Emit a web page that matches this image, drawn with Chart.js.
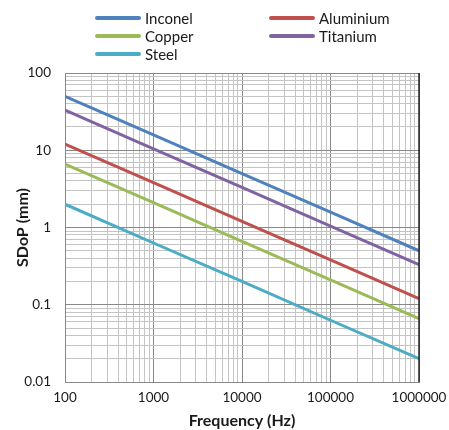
<!DOCTYPE html>
<html>
<head>
<meta charset="utf-8">
<script src="https://cdn.jsdelivr.net/npm/chart.js@4.4.1/dist/chart.umd.min.js"></script>
<style>
  html, body { margin: 0; padding: 0; background: #fff; }
  #wrap { position: relative; width: 449px; height: 430px; }
  #sdop { position: absolute; left: 0; top: 0; }
  #legend { position: absolute; left: 0; top: 0; width: 449px; height: 70px; font-family: Lato, "Open Sans", sans-serif; font-size: 15px; color: #1a1a1a; }
  .item { position: absolute; height: 18px; line-height: 18px; }
  .item span.swatch { position: absolute; left: 0; top: 7px; width: 46px; height: 4px; border-radius: 2px; }
  .item span.txt { position: absolute; left: 50px; white-space: nowrap; }
</style>
</head>
<body>
<div id="wrap">
  <canvas id="sdop" width="449" height="430"></canvas>
  <div id="legend"></div>
</div>
<script>
// frequencies (Hz) and standard depth of penetration (mm)
var freqs = [100, 1000, 10000, 100000, 1000000];
var inconel   = [50, 15.8, 5.0, 1.58, 0.5];
var aluminium = [12, 3.8, 1.2, 0.38, 0.12];
var copper    = [6.6, 2.1, 0.66, 0.21, 0.066];
var titanium  = [33, 10.4, 3.3, 1.04, 0.33];
var steel     = [2.0, 0.63, 0.2, 0.063, 0.02];

var xTickLabels = ['100', '1000', '10000', '100000', '1000000'];
var yTickLabels = ['0.01', '0.1', '1', '10', '100'];

var series = [
    {name: 'Inconel',   data: inconel,   color: '#4F81BD', lx: 95,  ly: 9},
    {name: 'Aluminium', data: aluminium, color: '#C0504D', lx: 269, ly: 9},
    {name: 'Copper',    data: copper,    color: '#9BBB59', lx: 95,  ly: 27},
    {name: 'Titanium',  data: titanium,  color: '#8064A2', lx: 269, ly: 27},
    {name: 'Steel',     data: steel,     color: '#4BACC6', lx: 95,  ly: 45}
];

// html legend, two columns like the original
var legend = document.getElementById('legend');
series.forEach(function(s) {
    var d = document.createElement('div');
    d.className = 'item';
    d.style.left = s.lx + 'px';
    d.style.top = s.ly + 'px';
    d.innerHTML = '<span class="swatch" style="background:' + s.color + '"></span><span class="txt">' + s.name + '</span>';
    legend.appendChild(d);
});

function decadeTicks(min, max) {
    var t = [];
    for (var p = min; p < max; p *= 10) {
        for (var k = 1; k < 10; k++) t.push({value: +(k * p).toPrecision(3)});
    }
    t.push({value: max});
    return t;
}

function isMajor(v) {
    var l = Math.log10(v);
    return Math.abs(l - Math.round(l)) < 1e-6;
}

function gridColor(ctx) {
    if (!ctx.tick) return '#c4c4c4';
    return isMajor(ctx.tick.value) ? '#888888' : '#c4c4c4';
}

var datasets = series.map(function(s) {
    return {
        label: s.name,
        data: freqs.map(function(f, i) { return {x: f, y: s.data[i]}; }),
        borderColor: s.color,
        backgroundColor: s.color,
        borderWidth: 3,
        pointRadius: 0,
        fill: false,
        tension: 0
    };
});

var fontFam = 'Lato, "Open Sans", sans-serif';

new Chart(document.getElementById('sdop').getContext('2d'), {
    type: 'line',
    data: {datasets: datasets},
    options: {
        responsive: false,
        animation: false,
        layout: {padding: {left: 0, right: 30, top: 73, bottom: 0}},
        plugins: {legend: {display: false}, tooltip: {enabled: false}},
        scales: {
            x: {
                type: 'logarithmic',
                min: 100, max: 1000000,
                afterBuildTicks: function(scale) { scale.ticks = decadeTicks(100, 1000000); },
                afterFit: function(scale) {
                    scale.height = 48;
                    scale.paddingLeft = 0;
                    scale.paddingRight = 0;
                },
                grid: {color: gridColor, lineWidth: 1, drawTicks: false},
                border: {color: '#888888', width: 1},
                ticks: {
                    autoSkip: false, maxRotation: 0, padding: 8,
                    color: '#1a1a1a', font: {family: fontFam, size: 13.5},
                    callback: function(v) {
                        var i = freqs.indexOf(v);
                        return i >= 0 ? xTickLabels[i] : '';
                    }
                },
                title: {display: true, text: 'Frequency (Hz)', color: '#1a1a1a', padding: {top: 1, bottom: 0},
                        font: {family: fontFam, size: 16, weight: 'bold'}}
            },
            y: {
                type: 'logarithmic',
                min: 0.01, max: 100,
                afterBuildTicks: function(scale) { scale.ticks = decadeTicks(0.01, 100); },
                afterFit: function(scale) {
                    scale.width = 65;
                    scale.paddingTop = 0;
                    scale.paddingBottom = 0;
                },
                grid: {color: gridColor, lineWidth: 1, drawTicks: false},
                border: {color: '#888888', width: 1},
                ticks: {
                    autoSkip: false, padding: 14,
                    color: '#1a1a1a', font: {family: fontFam, size: 13.5},
                    callback: function(v) {
                        var idx = [0.01, 0.1, 1, 10, 100].indexOf(v);
                        return idx >= 0 ? yTickLabels[idx] : '';
                    }
                },
                title: {display: true, text: 'SDoP (mm)', color: '#1a1a1a', padding: {top: 13, bottom: 0},
                        font: {family: fontFam, size: 16, weight: 'bold'}}
            }
        }
    },
    plugins: [{
        id: 'frame',
        afterDraw: function(chart) {
            var a = chart.chartArea, c = chart.ctx;
            c.save();
            c.strokeStyle = '#222';
            c.lineWidth = 1.5;
            c.beginPath();
            c.moveTo(a.right, a.top);
            c.lineTo(a.right, a.bottom);
            c.stroke();
            c.restore();
        }
    }]
});
</script>
</body>
</html>
